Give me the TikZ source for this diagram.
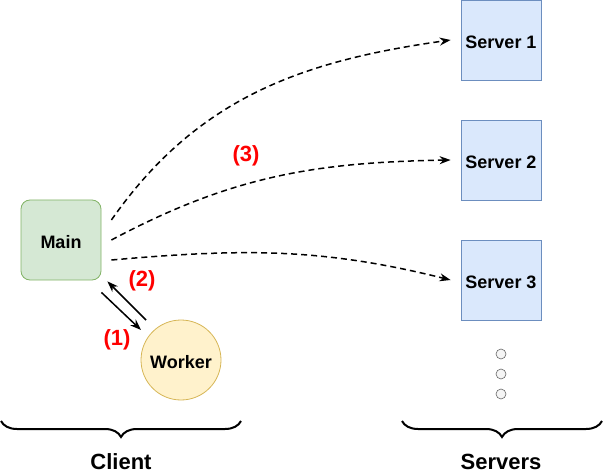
\documentclass[tikz,border=0pt]{standalone}
\usepackage{fontspec}
\setmainfont{Liberation Sans}
\usetikzlibrary{arrows.meta,decorations.pathreplacing}
\definecolor{mainfill}{HTML}{D5E8D4}
\definecolor{maindraw}{HTML}{82B366}
\definecolor{workfill}{HTML}{FFF2CC}
\definecolor{workdraw}{HTML}{D6B656}
\definecolor{srvfill}{HTML}{DAE8FC}
\definecolor{srvdraw}{HTML}{6C8EBF}
\definecolor{dotfill}{HTML}{F5F5F5}
\definecolor{dotdraw}{HTML}{666666}
\tikzset{
  box/.style={draw,line width=0.8pt,minimum width=80pt,minimum height=80pt,inner sep=0pt,align=center,text height=17pt,font=\fontsize{18}{20}\selectfont\bfseries},
  client/.style={box,fill=mainfill,draw=maindraw,rounded corners=9pt},
  worker/.style={box,circle,fill=workfill,draw=workdraw,minimum size=80pt},
  server/.style={box,fill=srvfill,draw=srvdraw},
  moredot/.style={circle,draw=dotdraw,fill=dotfill,line width=0.6pt,minimum size=10pt,inner sep=0pt},
  steplbl/.style={text=red,font=\fontsize{22}{24}\selectfont\bfseries},
  grouplbl/.style={font=\fontsize{22}{24}\selectfont\bfseries},
  arr/.style={-{Stealth[length=11pt,width=8pt]},line width=1.5pt},
  call/.style={arr,dash pattern=on 6pt off 4pt},
  grp/.style={decorate,decoration={brace,amplitude=16pt,mirror},line width=2pt}
}
\begin{document}
\begin{tikzpicture}[x=1pt,y=1pt]
  \useasboundingbox (0,0) rectangle (603,-476);
  \node[client] (main) at (61,-240) {Main};
  \node[worker] (work) at (181,-360) {Worker};
  \node[server] (srv1) at (501,-40) {Server 1};
  \node[server] (srv2) at (501,-160) {Server 2};
  \node[server] (srv3) at (501,-280) {Server 3};
  \foreach \i/\y in {1/354,2/374,3/394}
    \node[moredot] (dot\i) at (501,-\y) {};

  % main <-> worker
  \draw[arr] ([yshift=-12pt]main.south east) -- ([xshift=-40pt,yshift=30pt]work.center);
  \draw[arr] ([xshift=-35pt,yshift=40pt]work.center) -- ([xshift=6pt,yshift=-1pt]main.south east);
  \node[steplbl] (lbl1) at (117,-340) {(1)};
  \node[steplbl] (lbl2) at (142,-281) {(2)};

  % calls to the servers
  \draw[call] ([xshift=10pt,yshift=20pt]main.east) to[out=55,in=188] ([xshift=-10pt]srv1.west);
  \draw[call] ([xshift=10pt]main.east) to[out=28,in=181] ([xshift=-10pt]srv2.west);
  \draw[call] ([xshift=10pt,yshift=-20pt]main.east) to[out=5,in=166] ([xshift=-10pt]srv3.west);
  \node[steplbl] (lbl3) at (246,-156) {(3)};

  % groups
  \coordinate (cl) at (1,-421);
  \coordinate (cr) at (241,-421);
  \coordinate (sl) at (402,-421);
  \coordinate (sr) at (602,-421);
  \draw[grp] (cl) -- (cr);
  \draw[grp] (sl) -- (sr);
  \node[grouplbl] (clientlbl) at (121,-462) {Client};
  \node[grouplbl] (serverlbl) at (501,-462) {Servers};
\end{tikzpicture}
\end{document}
